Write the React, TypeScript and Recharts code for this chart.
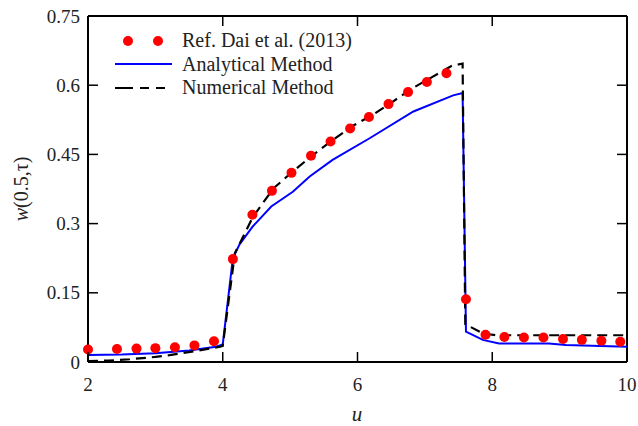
import { ComposedChart, Line, XAxis, YAxis, ReferenceLine } from "recharts";

const xTicks = [2, 4, 6, 8, 10];
const yTicks = [0, 0.15, 0.3, 0.45, 0.6, 0.75];

// Ref. Dai et al. (2013)
const refU = [2.0, 2.43, 2.72, 3.0, 3.29, 3.58, 3.87, 4.15, 4.44, 4.73, 5.02, 5.31, 5.6, 5.89, 6.17, 6.46, 6.75, 7.03, 7.32, 7.61, 7.9, 8.18, 8.47, 8.76, 9.05, 9.33, 9.62, 9.9];
const refW = [0.027, 0.028, 0.029, 0.03, 0.032, 0.036, 0.045, 0.223, 0.319, 0.371, 0.41, 0.447, 0.478, 0.506, 0.531, 0.559, 0.585, 0.607, 0.626, 0.136, 0.059, 0.054, 0.053, 0.053, 0.05, 0.048, 0.046, 0.044];

// analytical method
const anaU = [2.0, 2.5, 3.0, 3.5, 3.9, 4.0, 4.15, 4.25, 4.44, 4.72, 5.04, 5.29, 5.63, 6.18, 6.83, 7.42, 7.56, 7.61, 7.86, 8.1, 8.84, 9.09, 10.0];
const anaW = [0.015, 0.016, 0.019, 0.025, 0.033, 0.038, 0.225, 0.255, 0.293, 0.337, 0.369, 0.402, 0.438, 0.485, 0.543, 0.578, 0.583, 0.066, 0.048, 0.04, 0.04, 0.037, 0.033];

// numerical method
const numU = [2.0, 2.3, 2.62, 3.0, 3.21, 3.61, 3.96, 4.0, 4.18, 4.45, 4.75, 5.04, 5.34, 5.63, 5.93, 6.22, 6.52, 6.81, 7.1, 7.4, 7.56, 7.6, 7.86, 8.06, 10.0];
const numW = [0.002, 0.003, 0.006, 0.011, 0.015, 0.024, 0.033, 0.035, 0.236, 0.315, 0.376, 0.413, 0.449, 0.481, 0.512, 0.535, 0.564, 0.593, 0.617, 0.642, 0.647, 0.082, 0.062, 0.058, 0.058];

const toPoints = (us: number[], ws: number[]) => us.map((u, i) => ({ u, w: ws[i] }));

const refData = toPoints(refU, refW);
const anaData = toPoints(anaU, anaW);
const numData = toPoints(numU, numW);

const W = 638;
const H = 426;
const M = { top: 16, right: 11, left: 28, bottom: 24 };
const Y_W = 60;
const X_H = 40;
const plotTop = M.top;
const plotLeft = M.left + Y_W;
const plotRight = W - M.right;
const plotBottom = H - M.bottom - X_H;
const TICK = 10;

const font = "Liberation Serif";
const ink = "#222";

// bottom tick: inward marks on bottom and top frame, plus label
const XTick = (p: any) => (
  <g>
    <line x1={p.x} x2={p.x} y1={plotBottom - TICK} y2={plotBottom} stroke="#000" strokeWidth={1.5} />
    <line x1={p.x} x2={p.x} y1={plotTop} y2={plotTop + TICK} stroke="#000" strokeWidth={1.5} />
    <text x={p.x} y={plotBottom + 16} dy="0.71em" textAnchor="middle"
      style={{ fontFamily: font, fontSize: 19, fill: ink }}>{p.payload.value}</text>
  </g>
);

// left tick: inward marks on left and right frame, plus label
const YTick = (p: any) => (
  <g>
    <line x1={plotLeft} x2={plotLeft + TICK} y1={p.y} y2={p.y} stroke="#000" strokeWidth={1.5} />
    <line x1={plotRight - TICK} x2={plotRight} y1={p.y} y2={p.y} stroke="#000" strokeWidth={1.5} />
    <text x={plotLeft - 8} y={p.y} dy="0.35em" textAnchor="end"
      style={{ fontFamily: font, fontSize: 19, fill: ink }}>{String(p.payload.value)}</text>
  </g>
);

const RefDot = (p: any) => <circle key={p.index} cx={p.cx} cy={p.cy} r={5} fill="#ff0000" />;

const legendRows = [
  { key: "ref", label: "Ref. Dai et al. (2013)" },
  { key: "ana", label: "Analytical Method" },
  { key: "num", label: "Numerical Method" },
];

const LegendBox = () => (
  <div style={{ position: "absolute", left: 110, top: 29, fontFamily: font, fontSize: 20, color: ink }}>
    {legendRows.map((r) => (
      <div key={r.key} style={{ display: "flex", alignItems: "center", height: 23.5 }}>
        <svg width={72} height={24}>
          {r.key === "ref" && (
            <>
              <circle cx={18} cy={12} r={5} fill="#ff0000" />
              <circle cx={48} cy={12} r={5} fill="#ff0000" />
            </>
          )}
          {r.key === "ana" && <line x1={5} x2={62} y1={12} y2={12} stroke="#0000ff" strokeWidth={2} />}
          {r.key === "num" && (
            <line x1={5} x2={62} y1={12} y2={12} stroke="#000" strokeWidth={2.2} strokeDasharray="18 7 9 7 9" />
          )}
        </svg>
        <span style={{ lineHeight: "23.5px", whiteSpace: "nowrap" }}>{r.label}</span>
      </div>
    ))}
  </div>
);

export default function App() {
  return (
    <div style={{ position: "absolute", left: 0, top: 0, width: W, height: H, background: "#fff" }}>
      <ComposedChart width={W} height={H} margin={M}>
        <XAxis type="number" dataKey="u" domain={[2, 10]} ticks={xTicks} height={X_H}
          axisLine={{ stroke: "#000", strokeWidth: 2 }} tickLine={false} tick={XTick} />
        <YAxis type="number" domain={[0, 0.75]} ticks={yTicks} width={Y_W}
          axisLine={{ stroke: "#000", strokeWidth: 2 }} tickLine={false} tick={YTick} />
        <ReferenceLine y={0.75} stroke="#000" strokeWidth={2} />
        <ReferenceLine x={10} stroke="#000" strokeWidth={2} />
        <Line data={anaData} dataKey="w" type="linear" stroke="#0000ff" strokeWidth={2}
          dot={false} activeDot={false} isAnimationActive={false} />
        <Line data={numData} dataKey="w" type="linear" stroke="#000" strokeWidth={2.2}
          strokeDasharray="10 6" dot={false} activeDot={false} isAnimationActive={false} />
        <Line data={refData} dataKey="w" stroke="none" dot={RefDot} activeDot={false}
          isAnimationActive={false} />
      </ComposedChart>
      <LegendBox />
      <div style={{ position: "absolute", left: 21, top: 189, transform: "translate(-50%, -50%) rotate(-90deg)",
        fontFamily: font, fontSize: 20, color: ink, whiteSpace: "nowrap", lineHeight: 1 }}>
        <i>w</i>(0.5,τ)
      </div>
      <div style={{ position: "absolute", left: 357, top: 414, transform: "translate(-50%, -50%)",
        fontFamily: font, fontSize: 21, color: ink, fontStyle: "italic", lineHeight: 1 }}>
        u
      </div>
    </div>
  );
}
